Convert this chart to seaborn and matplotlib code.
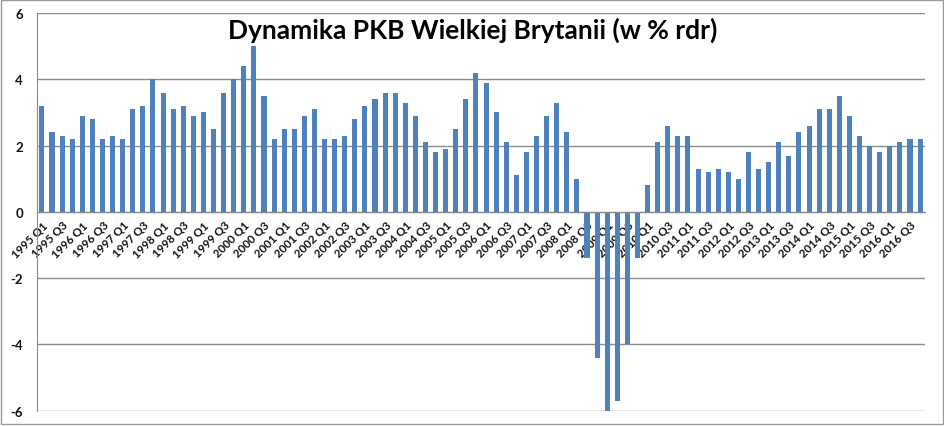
import pandas as pd
import seaborn as sns
import matplotlib.pyplot as plt
from matplotlib.patches import Rectangle

years = list(range(1995, 2017))
quarters = ["Q1", "Q2", "Q3", "Q4"]
labels = [f"{y} {q}" for y in years for q in quarters]

growth = [
    3.2, 2.4, 2.3, 2.2,   # 1995
    2.9, 2.8, 2.2, 2.3,   # 1996
    2.2, 3.1, 3.2, 4.0,   # 1997
    3.6, 3.1, 3.2, 2.9,   # 1998
    3.0, 2.5, 3.6, 4.0,   # 1999
    4.4, 5.0, 3.5, 2.2,   # 2000
    2.5, 2.5, 2.9, 3.1,   # 2001
    2.2, 2.2, 2.3, 2.8,   # 2002
    3.2, 3.4, 3.6, 3.6,   # 2003
    3.3, 2.9, 2.1, 1.8,   # 2004
    1.9, 2.5, 3.4, 4.2,   # 2005
    3.9, 3.0, 2.1, 1.1,   # 2006
    1.8, 2.3, 2.9, 3.3,   # 2007
    2.4, 1.0, -1.4, -4.4,  # 2008
    -6.05, -5.7, -4.0, -1.4,  # 2009
    0.8, 2.1, 2.6, 2.3,   # 2010
    2.3, 1.3, 1.2, 1.3,   # 2011
    1.2, 1.0, 1.8, 1.3,   # 2012
    1.5, 2.1, 1.7, 2.4,   # 2013
    2.6, 3.1, 3.1, 3.5,   # 2014
    2.9, 2.3, 2.0, 1.8,   # 2015
    2.0, 2.1, 2.2, 2.2,   # 2016
]

df = pd.DataFrame({"kwartal": labels, "pkb": growth})

sns.set_style("white")
plt.rcParams["font.family"] = ["Lato", "DejaVu Sans"]

fig = plt.figure(figsize=(9.45, 4.27), dpi=100)
ax = fig.add_axes([0.039, 0.036, 0.940, 0.931])
ax.set_axisbelow(True)

sns.barplot(data=df, x="kwartal", y="pkb", color="#4F81BD", saturation=1,
            width=0.5, linewidth=0, ax=ax)

ax.set_ylim(-6, 6)
ax.set_xlim(-0.5, len(labels) - 0.5)
ax.set_yticks([-6, -4, -2, 0, 2, 4, 6])
ax.set_yticklabels([str(v) for v in [-6, -4, -2, 0, 2, 4, 6]],
                   fontsize=9.5, fontweight="bold", color="#111111")
ax.yaxis.grid(True, color="#8c8c8c", linewidth=1, linestyle="-")
ax.xaxis.grid(False)
ax.tick_params(axis="y", length=0, pad=10)

# x axis crosses at zero
ax.spines["bottom"].set_position(("data", 0))
ax.spines["bottom"].set_color("#8c8c8c")
ax.spines["bottom"].set_zorder(4)
ax.spines["left"].set_color("#8c8c8c")
ax.spines["top"].set_visible(False)
ax.spines["right"].set_visible(False)

ax.set_xticks(range(0, len(labels), 2))
ax.set_xticklabels(labels[::2], rotation=45, ha="right", rotation_mode="anchor",
                   fontsize=8.3, fontweight="bold", color="#111111")
ax.set_xticks([i - 0.5 for i in range(len(labels) + 1)], minor=True)
ax.tick_params(axis="x", which="major", length=0, pad=5)
ax.tick_params(axis="x", which="minor", length=4, color="#8c8c8c", direction="out")
ax.set_xlabel("")
ax.set_ylabel("")

fig.text(0.5, 0.93, "Dynamika PKB Wielkiej Brytanii (w % rdr)", ha="center",
         va="center", fontsize=19, fontweight="bold", color="#000000")

fig.patches.append(Rectangle((0.001, 0.004), 0.997, 0.993, transform=fig.transFigure,
                             fill=False, edgecolor="#9a9a9a", linewidth=1))

fig.savefig("out.png", dpi=100)
